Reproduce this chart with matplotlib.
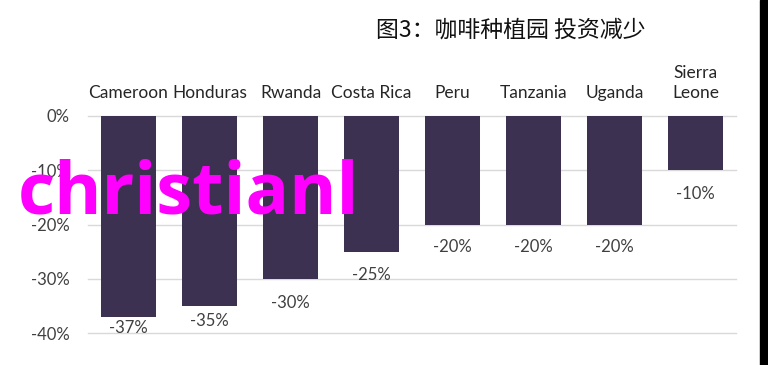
import matplotlib
matplotlib.use("Agg")
import matplotlib.pyplot as plt
from matplotlib.ticker import FuncFormatter

categories = ["Cameroon", "Honduras", "Rwanda", "Costa Rica", "Peru", "Tanzania", "Uganda", "Sierra\nLeone"]
values = [-37, -35, -30, -25, -20, -20, -20, -10]
yticks = [0, -10, -20, -30, -40]
title = "图3：咖啡种植园 投资减少"
watermark = "christianl"

# label gap below each bar (pixels), as placed in the original
label_gaps_px = [3, 7, 16, 15, 15, 15, 15, 16]

plt.rcParams['font.family'] = ['Lato', 'DejaVu Sans']

fig = plt.figure(figsize=(7.68, 3.65), dpi=100)
ax = fig.add_axes([88/768, 1-333/365, (736-88)/768, (333-116)/365])

x = list(range(len(categories)))
ax.bar(x, values, width=0.68, color="#3c3150", zorder=2)
ax.set_xlim(-0.5, len(categories)-0.5)
ax.set_ylim(-40, 0)
ax.set_yticks(yticks)
ax.yaxis.set_major_formatter(FuncFormatter(lambda v, p: f"{int(round(v))}%"))
ax.grid(axis='y', color="#d9d9d9", linewidth=1, zorder=0)
for gl in ax.yaxis.get_gridlines():
    gl.set_clip_on(False)
for s in ax.spines.values():
    s.set_visible(False)
ax.tick_params(axis='y', length=0, pad=13, labelsize=12, labelcolor="#404040")
ax.xaxis.tick_top()
ax.set_xticks(x)
ax.set_xticklabels(categories, linespacing=1.3)
ax.tick_params(axis='x', length=0, pad=11, labelsize=12.5, labelcolor="#262626")

for xi, v, g in zip(x, values, label_gaps_px):
    ax.annotate(f"{v}%", (xi, v), xytext=(0, -g*0.72), textcoords="offset points",
                ha="center", va="top", fontsize=12, color="#404040")

fig.text(511/768, 1-30/365, title, ha="center", va="center", fontsize=16.5,
         family=['Noto Sans CJK SC', 'DejaVu Sans'], fontweight='medium', color="#111111")

fig.text(18/768, 1-195/365, watermark, ha="left", va="center", fontsize=52,
         family=['Open Sans', 'DejaVu Sans'], fontweight='bold', color="#ff00ff")

fig.patches.append(plt.Rectangle((760/768, 0), 8/768, 1, transform=fig.transFigure,
                                 color="black", zorder=10))

fig.savefig("out.png", dpi=100)
